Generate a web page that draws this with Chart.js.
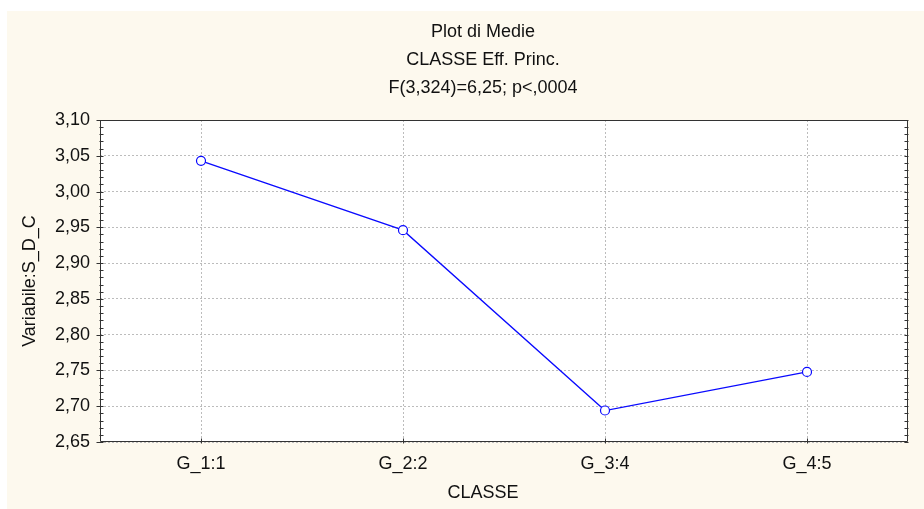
<!DOCTYPE html>
<html><head><meta charset="utf-8">
<script src="https://cdn.jsdelivr.net/npm/chart.js@4"></script>
<style>html,body{margin:0;padding:0;background:#fff;}</style>
</head><body>
<canvas id="c" width="924" height="509"></canvas>
<script>
const categories = ['G_1:1', 'G_2:2', 'G_3:4', 'G_4:5'];
const means = [3.043, 2.946, 2.694, 2.748];
const yTicks = [2.65, 2.70, 2.75, 2.80, 2.85, 2.90, 2.95, 3.00, 3.05, 3.10];
const titleLines = ['Plot di Medie', 'CLASSE Eff. Princ.', 'F(3,324)=6,25; p<,0004'];
const xTitle = 'CLASSE';
const yTitle = 'Variabile:S_D_C';

const FONT = '"Liberation Sans", Arial, Helvetica, sans-serif';
const TXT = '#111111';
const CREAM = '#fdf9ee';
const FRAME = '#333333';
const FS = 18;

const bgPlugin = {
  id: 'bg',
  beforeDraw(chart) {
    const ctx = chart.ctx, a = chart.chartArea;
    ctx.save();
    ctx.fillStyle = '#ffffff';
    ctx.fillRect(0, 0, chart.width, chart.height);
    ctx.fillStyle = CREAM;
    ctx.fillRect(7, 11, chart.width - 7, chart.height - 11);
    ctx.fillStyle = '#ffffff';
    ctx.fillRect(a.left, a.top, a.right - a.left, a.bottom - a.top);
    ctx.restore();
  }
};

const centerTitles = {
  id: 'centerTitles',
  afterLayout(chart) {
    chart.boxes.forEach(b => {
      if (!(b instanceof Chart.Scale) && b.options && typeof b.options.text !== 'undefined' &&
          typeof b.isHorizontal === 'function' && b.isHorizontal()) {
        b.left = 40; b.right = 926;
      }
    });
  }
};

const framePlugin = {
  id: 'frame',
  afterDatasetsDraw(chart) {
    const ctx = chart.ctx, a = chart.chartArea;
    const L = Math.round(a.left) + 0.5, R = Math.round(a.right) - 0.5;
    const T = Math.round(a.top) + 0.5, B = Math.round(a.bottom) - 0.5;
    ctx.save();
    ctx.strokeStyle = FRAME;
    ctx.lineWidth = 1;
    ctx.beginPath();
    ctx.rect(L, T, R - L, B - T);
    ctx.stroke();
    const ys = chart.scales.y;
    ctx.beginPath();
    for (let k = 0; k <= 45; k++) {
      const v = yTicks[0] + k * 0.01;
      const py = Math.round(ys.getPixelForValue(v)) + 0.5;
      const major = k % 5 === 0;
      ctx.moveTo(L - (major ? 4 : 1), py); ctx.lineTo(L + 3, py);
      ctx.moveTo(R - 3, py); ctx.lineTo(R + 1, py);
    }
    const xs = chart.scales.x;
    categories.forEach((c, i) => {
      const px = Math.round(xs.getPixelForValue(i)) + 0.5;
      ctx.moveTo(px, B - 3); ctx.lineTo(px, B + 2);
    });
    ctx.stroke();
    ctx.restore();
  }
};

new Chart(document.getElementById('c'), {
  type: 'line',
  data: {
    labels: categories,
    datasets: [{
      data: means,
      borderColor: '#0a0aff',
      borderWidth: 1.3,
      pointRadius: 4.5,
      pointHoverRadius: 4.5,
      pointBorderWidth: 1.2,
      pointBackgroundColor: '#ffffff',
      pointBorderColor: '#0a0aff',
      tension: 0,
      fill: false
    }]
  },
  options: {
    responsive: false,
    animation: false,
    devicePixelRatio: 1,
    layout: { padding: { top: 0, right: 16, bottom: 0, left: 0 } },
    plugins: {
      legend: { display: false },
      tooltip: { enabled: false },
      title: {
        display: true,
        text: titleLines,
        color: TXT,
        font: { family: FONT, size: FS, weight: 'normal', lineHeight: 28 / FS },
        padding: { top: 18, bottom: 18 }
      },
      subtitle: {
        display: true,
        position: 'bottom',
        text: xTitle,
        color: TXT,
        font: { family: FONT, size: FS, weight: 'normal', lineHeight: 1.2 },
        padding: { top: 8.4, bottom: 5 }
      }
    },
    scales: {
      x: {
        type: 'category',
        offset: true,
        afterFit: s => { s.height = 32; },
        grid: { color: '#bcbcbc', lineWidth: 1, offset: false, drawTicks: false },
        border: { display: false, dash: [2, 2] },
        ticks: { color: TXT, padding: 11, font: { family: FONT, size: FS }, maxRotation: 0 }
      },
      y: {
        min: 2.65,
        max: 3.10,
        afterFit: s => { s.width = 100; },
        afterBuildTicks: s => { s.ticks = yTicks.map(v => ({ value: v })); },
        grid: { color: '#bcbcbc', lineWidth: 1, drawTicks: false },
        border: { display: false, dash: [2, 2] },
        ticks: {
          color: TXT, padding: 10, font: { family: FONT, size: FS },
          callback: v => Number(v).toFixed(2).replace('.', ',')
        },
        title: {
          display: true, text: yTitle, color: TXT,
          font: { family: FONT, size: FS, weight: 'normal', lineHeight: 1.2 },
          padding: { top: 19, bottom: 0 }
        }
      }
    }
  },
  plugins: [bgPlugin, centerTitles, framePlugin]
});
</script>
</body></html>
